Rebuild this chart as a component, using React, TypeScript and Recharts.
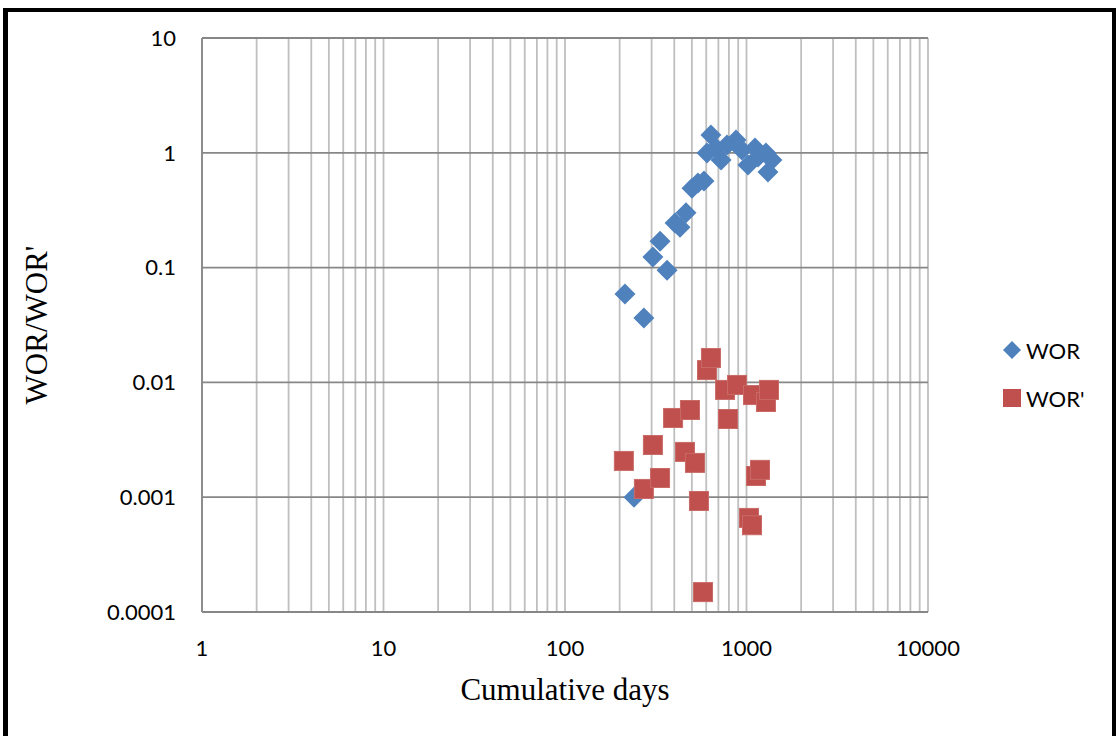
import React from 'react';
import { ScatterChart, Scatter, XAxis, YAxis, CartesianGrid } from 'recharts';

const worDays = [214, 240, 272, 305, 334, 365, 404, 430, 464, 501, 540, 583, 606, 637, 679, 724, 781, 875, 944, 1019, 1114, 1157, 1280, 1313, 1381];
const worValues = [0.0589, 0.001, 0.0364, 0.124, 0.17, 0.095, 0.245, 0.225, 0.3, 0.49, 0.546, 0.568, 0.995, 1.43, 1.1, 0.865, 1.17, 1.29, 1.06, 0.783, 1.1, 0.92, 0.995, 0.68, 0.865];

const worPrimeDays = [211, 272, 305, 334, 394, 458, 488, 520, 547, 576, 606, 637, 762, 791, 887, 1032, 1072, 1086, 1128, 1187, 1280, 1330];
const worPrimeValues = [0.00207, 0.00118, 0.00285, 0.00147, 0.0049, 0.00248, 0.00575, 0.00199, 0.000927, 0.000149, 0.0128, 0.0163, 0.0086, 0.0048, 0.0095, 0.00066, 0.00057, 0.00776, 0.00153, 0.00173, 0.00675, 0.0086];

const xMajorTicks = [1, 10, 100, 1000, 10000];
const yTicks = [0.0001, 0.001, 0.01, 0.1, 1, 10];
const yTickLabels = ['0.0001', '0.001', '0.01', '0.1', '1', '10'];

const seriesNames = ['WOR', "WOR'"];

const xAllTicks: number[] = [];
for (let d = 0; d < 4; d++) {
  for (let m = 1; m < 10; m++) xAllTicks.push(m * Math.pow(10, d));
}
xAllTicks.push(10000);

const worData = worDays.map((x, i) => ({ x, y: worValues[i] }));
const worPrimeData = worPrimeDays.map((x, i) => ({ x, y: worPrimeValues[i] }));

const BLUE = '#4f81bd';
const RED = '#c0504d';

const Diamond = (props: any) => {
  const { cx, cy } = props;
  const r = 10.5;
  return <polygon points={`${cx},${cy - r} ${cx + r},${cy} ${cx},${cy + r} ${cx - r},${cy}`} fill={BLUE} />;
};

const Square = (props: any) => {
  const { cx, cy } = props;
  const s = 19;
  return <rect x={cx - s / 2} y={cy - s / 2} width={s} height={s} fill={RED} stroke="#c96a67" strokeWidth={1} />;
};

const tickFont = { fontFamily: 'Lato, "Open Sans", sans-serif', fontSize: 22, fill: '#000' };

export default function App() {
  return (
    <div style={{ position: 'absolute', left: 0, top: 0, width: 1116, height: 736, background: '#fff' }}>
      <div style={{ position: 'absolute', left: 3, top: 8, width: 1104, height: 728, borderLeft: '5px solid #000', borderTop: '4px solid #000', borderRight: '4px solid #000' }} />
      <div style={{ position: 'absolute', left: 0, top: 0 }}>
        <ScatterChart width={1116} height={736} margin={{ top: 38, right: 188, bottom: 0, left: 0 }}>
          <CartesianGrid horizontal={false} vertical={true} stroke="#bfbfbf" strokeWidth={1.8} />
          <CartesianGrid horizontal={true} vertical={false} stroke="#878787" strokeWidth={1.8} />
          <XAxis
            type="number"
            dataKey="x"
            scale="log"
            domain={[1, 10000]}
            allowDataOverflow
            ticks={xAllTicks}
            interval={0}
            height={124}
            tickLine={false}
            tickSize={0}
            tickMargin={28}
            axisLine={{ stroke: '#878787', strokeWidth: 1.8 }}
            tick={tickFont}
            tickFormatter={(v: number) => (xMajorTicks.indexOf(v) >= 0 ? String(v) : '')}
            label={{ value: 'Cumulative days', position: 'insideBottom', offset: 36, style: { fontFamily: '"Liberation Serif", "Times New Roman", serif', fontSize: 31, fill: '#000' } }}
          />
          <YAxis
            type="number"
            dataKey="y"
            scale="log"
            domain={[0.0001, 10]}
            allowDataOverflow
            ticks={yTicks}
            interval={0}
            width={202}
            tickLine={false}
            tickSize={0}
            tickMargin={26}
            axisLine={{ stroke: '#878787', strokeWidth: 1.8 }}
            tick={tickFont}
            tickFormatter={(v: number) => yTickLabels[yTicks.indexOf(v)] ?? ''}
            label={{ value: "WOR/WOR'", angle: -90, position: 'insideLeft', offset: 36, style: { textAnchor: 'middle', fontFamily: '"Liberation Serif", "Times New Roman", serif', fontSize: 31, fill: '#000' } }}
          />
          <Scatter name={seriesNames[0]} data={worData} fill={BLUE} shape={<Diamond />} isAnimationActive={false} />
          <Scatter name={seriesNames[1]} data={worPrimeData} fill={RED} shape={<Square />} isAnimationActive={false} />
        </ScatterChart>
      </div>
      <div style={{ position: 'absolute', left: 1000, top: 335, fontFamily: 'Lato, "Open Sans", sans-serif', fontSize: 22, color: '#000' }}>
        <div style={{ display: 'flex', alignItems: 'center', height: 30 }}>
          <svg width={24} height={24}><polygon points="12,3 21,12 12,21 3,12" fill={BLUE} /></svg>
          <span style={{ marginLeft: 2 }}>{seriesNames[0]}</span>
        </div>
        <div style={{ display: 'flex', alignItems: 'center', height: 30, marginTop: 18 }}>
          <svg width={24} height={24}><rect x={3} y={3} width={18} height={18} fill={RED} /></svg>
          <span style={{ marginLeft: 2 }}>{seriesNames[1]}</span>
        </div>
      </div>
    </div>
  );
}
